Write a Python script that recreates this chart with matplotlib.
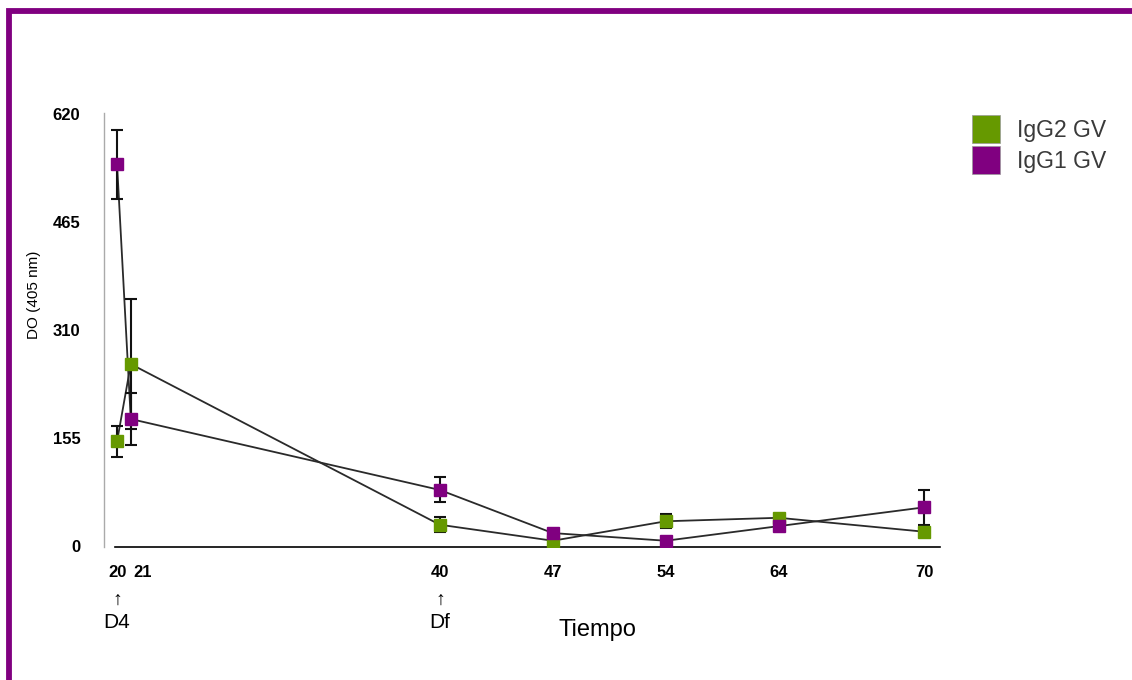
import matplotlib.pyplot as plt
from matplotlib.lines import Line2D
from matplotlib.patches import Rectangle
from matplotlib.transforms import blended_transform_factory

plt.rcParams['font.family'] = ['Liberation Sans', 'DejaVu Sans']

# datos
tiempo = ['20', '21', '40', '47', '54', '64', '70']
xpos = [20, 20.85, 40, 47, 54, 61, 70]       # posicion de cada punto en el eje
xtick_pos = [20, 21.6, 40, 47, 54, 61, 70]   # posicion de las etiquetas
igg2 = [152, 263, 32, 9, 37, 42, 22]
igg2_err = [22, 93, 11, 0, 10, 0, 0]
igg1 = [550, 184, 82, 20, 9, 30, 57]
igg1_err = [49, 37, 18, 0, 0, 0, 25]
yticks = [0, 155, 310, 465, 620]

verde = '#669900'
morado = '#800080'

fig = plt.figure(figsize=(11.32, 6.8), dpi=100)
ax = fig.add_axes([104 / 1132, 1 - 547 / 680, 836 / 1132, 434 / 680])

for y, err, col in [(igg2, igg2_err, verde), (igg1, igg1_err, morado)]:
    ax.plot(xpos, y, color='#2a2a2a', lw=1.3, zorder=2)
    ax.errorbar(xpos, y, yerr=err, fmt='none', ecolor='#111111', elinewidth=1.5,
                capsize=4.5, capthick=1.5, zorder=3)
    ax.plot(xpos, y, ls='', marker='s', ms=9, color=col, mec=col, zorder=4)

ax.set_xlim(19.19, 70.99)
ax.set_ylim(0, 624)
ax.set_xticks(xtick_pos)
ax.set_xticklabels(tiempo, fontsize=12, fontweight='bold')
ax.set_yticks(yticks)
ax.set_yticklabels([str(v) for v in yticks], fontsize=12, fontweight='bold')
ax.tick_params(length=0)
ax.tick_params(axis='x', pad=13)
ax.tick_params(axis='y', pad=17)
for lab in ax.get_yticklabels():
    lab.set_verticalalignment('center')

ax.spines['top'].set_visible(False)
ax.spines['right'].set_visible(False)
ax.spines['left'].set_color('#aaaaaa')
ax.spines['left'].set_linewidth(1)
ax.spines['bottom'].set_bounds(19.9, 70.99)
ax.spines['bottom'].set_linewidth(1.2)

ax.set_ylabel('DO (405 nm)', fontsize=11)
ax.yaxis.set_label_coords(-0.075, 0.58)

# flechas de dosis
tr = blended_transform_factory(ax.transData, fig.transFigure)
for x, txt in [(20, 'D4'), (40, 'Df')]:
    ax.text(x, 1 - 600 / 680, '\u2191', transform=tr, ha='center', va='center', fontsize=14)
    ax.text(x, 1 - 622 / 680, txt, transform=tr, ha='center', va='center', fontsize=15)
fig.text(597 / 1132, 1 - 630 / 680, 'Tiempo', ha='center', va='center', fontsize=17)

# leyenda
handles = [Line2D([], [], ls='', marker='s', ms=20, color=verde, mec='#999999', mew=0.5),
           Line2D([], [], ls='', marker='s', ms=20, color=morado, mec='#999999', mew=0.5)]
fig.legend(handles, ['IgG2 GV', 'IgG1 GV'], loc='upper left',
           bbox_to_anchor=(960 / 1132, 1 - 108 / 680), frameon=False,
           fontsize=16.5, labelcolor='#3a3a3a', handlelength=1.3, handletextpad=0.7,
           labelspacing=0.33, borderpad=0)

# marco morado
fig.add_artist(Rectangle((8.5 / 1132, -0.1), 1.2, 1.1 - 11 / 680, transform=fig.transFigure,
                         fill=False, edgecolor=morado, linewidth=4.2))

fig.savefig('out.png', dpi=100)
